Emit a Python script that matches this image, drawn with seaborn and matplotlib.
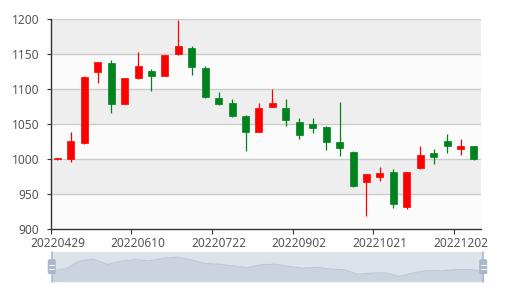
import matplotlib
matplotlib.use("Agg")
import matplotlib.pyplot as plt
from matplotlib.patches import FancyBboxPatch, Rectangle
import seaborn as sns
import numpy as np
import pandas as pd

dates = ["20220429", "20220506", "20220513", "20220520", "20220527", "20220602",
         "20220610", "20220617", "20220624", "20220701", "20220708", "20220715",
         "20220722", "20220729", "20220805", "20220812", "20220819", "20220826",
         "20220902", "20220909", "20220916", "20220923", "20220930", "20221014",
         "20221021", "20221028", "20221104", "20221111", "20221118", "20221125",
         "20221202", "20221209"]
opens = [1000, 1000, 1023, 1124, 1137, 1078, 1115, 1126, 1119, 1150, 1159, 1130,
         1087, 1080, 1061, 1038, 1074, 1073, 1053, 1050, 1045, 1024, 1010, 967,
         974, 982, 931, 987, 1008, 1026, 1014, 1018]
closes = [1002, 1026, 1117, 1138, 1078, 1115, 1133, 1119, 1148, 1162, 1132, 1089,
          1079, 1061, 1039, 1073, 1080, 1056, 1034, 1044, 1024, 1016, 962, 978,
          980, 936, 982, 1005, 1003, 1018, 1018, 1000]
lows = [999, 995, 1021, 1108, 1066, 1078, 1114, 1097, 1118, 1149, 1120, 1087,
        1077, 1060, 1012, 1038, 1074, 1047, 1028, 1037, 1013, 1004, 960, 919,
        968, 930, 929, 986, 993, 1008, 1005, 999]
highs = [1002, 1038, 1118, 1139, 1142, 1115, 1153, 1129, 1148, 1199, 1161, 1133,
         1096, 1086, 1063, 1080, 1100, 1085, 1059, 1059, 1047, 1082, 1012, 979,
         989, 985, 982, 1019, 1014, 1035, 1028, 1019]
y_ticks = [900, 950, 1000, 1050, 1100, 1150, 1200]

df = pd.DataFrame({"date": dates, "open": opens, "close": closes,
                   "low": lows, "high": highs})
df["idx"] = np.arange(len(df))

sns.set_theme(style="white")
plt.rcParams["font.family"] = ["Noto Sans", "DejaVu Sans"]

W, H = 513, 291
fig = plt.figure(figsize=(W / 100, H / 100), dpi=100)
fig.patch.set_facecolor("white")

L, R, T, B = 50.7, 480.7, 19.0, 229.0
ax = fig.add_axes([L / W, 1 - B / H, (R - L) / W, (B - T) / H])

n = len(df)
ax.set_xlim(-0.5, n - 0.5)
ax.set_ylim(y_ticks[0], y_ticks[-1])
ax.set_facecolor("white")

# split areas
for i in range(len(y_ticks) - 1):
    c = "#fbfbfb" if i % 2 == 0 else "#eeeeee"
    ax.axhspan(y_ticks[i], y_ticks[i + 1], color=c, zorder=0, lw=0)
for v in y_ticks[1:]:
    ax.axhline(v, color="#cccccc", lw=1.0, zorder=1)

red, green = "#ff0000", "#00821e"
up = df["close"] >= df["open"]
colors = np.where(up, red, green)

ax.vlines(df["idx"], df["low"], df["high"], colors=colors, lw=0.9, zorder=2)
bottoms = np.minimum(df["open"], df["close"])
heights = np.maximum(np.abs(df["close"] - df["open"]), 1.2)
ax.bar(df["idx"], heights, bottom=bottoms, width=0.52, color=colors,
       edgecolor=colors, linewidth=0.5, zorder=3)

# axes styling
for s in ["top", "right"]:
    ax.spines[s].set_visible(False)
for s in ["left", "bottom"]:
    ax.spines[s].set_color("#333333")
    ax.spines[s].set_linewidth(1.0)
    ax.spines[s].set_zorder(5)

ax.set_yticks(y_ticks)
ax.set_yticklabels([str(v) for v in y_ticks])
ax.tick_params(axis="y", left=True, length=3.2, width=0.8, color="#333333",
               pad=5, labelsize=8.6, labelcolor="#555555")

label_idx = list(range(0, n, 6))
ax.set_xticks([i - 0.5 for i in label_idx])
ax.set_xticklabels([])
ax.set_xticks(label_idx, minor=True)
ax.set_xticklabels([dates[i] for i in label_idx], minor=True)
ax.tick_params(axis="x", which="major", bottom=True, length=3.6, width=0.8,
               color="#333333")
ax.tick_params(axis="x", which="minor", bottom=False, length=0, pad=6,
               labelsize=8.6, labelcolor="#555555")
ax.grid(False)

# data zoom slider
SL, SR, ST, SB = 51.7, 483.3, 251.7, 281.7
sax = fig.add_axes([SL / W, 1 - SB / H, (SR - SL) / W, (SB - ST) / H])
sax.set_xlim(0, n - 1)
cmin, cmax = min(closes), max(closes)
rng = cmax - cmin
sax.set_ylim(cmin - 0.26 * rng, cmax + 0.28 * rng)
sax.set_facecolor("#dce3ea")
sax.fill_between(df["idx"], sax.get_ylim()[0], df["close"], color="#cbd4de",
                 lw=0, zorder=1)
sns.lineplot(data=df, x="idx", y="close", ax=sax, color="#bcc7d4", lw=0.8,
             zorder=2)
sax.set_xlabel("")
sax.set_ylabel("")
sax.set_xticks([])
sax.set_yticks([])
for s in sax.spines.values():
    s.set_visible(False)

# handles
for hx in (SL, SR):
    fig.add_artist(plt.Line2D([hx / W, hx / W], [1 - SB / H, 1 - ST / H],
                              color="#a9b9cd", lw=1.2, transform=fig.transFigure))
    hw, hh = 7, 14
    cy = (ST + SB) / 2
    box = FancyBboxPatch(((hx - hw / 2) / W, 1 - (cy + hh / 2) / H), hw / W, hh / H,
                         boxstyle="round,pad=0,rounding_size=0.004",
                         transform=fig.transFigure, facecolor="#a9b9cd",
                         edgecolor="#9eb0c6", lw=0.6)
    fig.add_artist(box)
    for dy in (-2, 2):
        fig.add_artist(plt.Line2D([(hx - 2.5) / W, (hx + 2.5) / W],
                                  [1 - (cy + dy) / H, 1 - (cy + dy) / H],
                                  color="white", lw=0.8, transform=fig.transFigure))

fig.savefig("out.png", dpi=100, facecolor="white")
